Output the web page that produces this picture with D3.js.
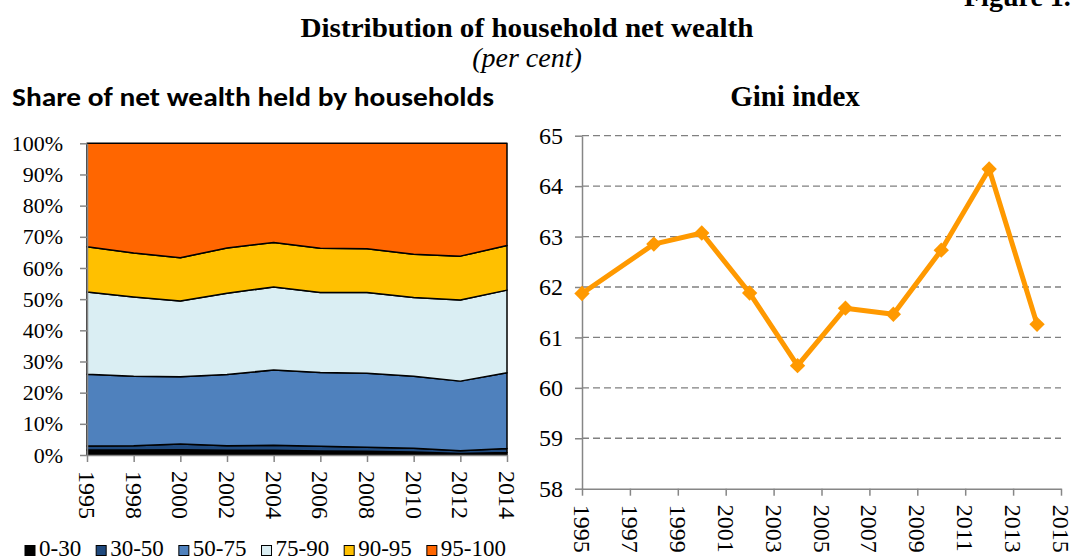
<!DOCTYPE html>
<html>
<head>
<meta charset="utf-8">
<script src="https://cdn.jsdelivr.net/npm/d3@7"></script>
<style>
  body { margin: 0; background: #fff; }
  svg { display: block; }
</style>
</head>
<body>
<div id="vis"></div>
<script>
const FRAME_WIDTH = 1072;
const FRAME_HEIGHT = 560;
const SERIF = "'Liberation Serif', 'Times New Roman', serif";
const SANS = "Carlito, 'Liberation Sans', Arial, sans-serif";
const GREY = "#868686";

// data for the stacked area chart (shares in per cent)
const years = ["1995", "1998", "2000", "2002", "2004", "2006", "2008", "2010", "2012", "2014"];
const groups = ["0-30", "30-50", "50-75", "75-90", "90-95", "95-100"];
const group_colors = ["#000000", "#1F497D", "#4F81BD", "#DAEEF3", "#FFC000", "#FF6600"];
const share_0_30   = [1.6, 1.6, 1.7, 1.5, 1.5, 1.3, 1.2, 1.0, 0.5, 0.8];
const share_30_50  = [1.3, 1.4, 1.8, 1.5, 1.6, 1.5, 1.3, 1.2, 0.9, 1.3];
const share_50_75  = [23.0, 22.3, 21.6, 22.8, 24.2, 23.7, 23.7, 23.1, 22.3, 24.3];
const share_75_90  = [26.4, 25.4, 24.3, 26.1, 26.6, 25.6, 25.9, 25.2, 26.0, 26.5];
const share_90_95  = [14.5, 14.1, 13.9, 14.5, 14.3, 14.2, 14.1, 13.9, 14.1, 14.3];
const share_95_100 = [33.2, 35.2, 36.7, 33.6, 31.8, 33.7, 33.8, 35.6, 36.2, 32.8];
const pct_ticks = [0, 10, 20, 30, 40, 50, 60, 70, 80, 90, 100];

// data for the Gini line
const gini_years = [1995, 1998, 2000, 2002, 2004, 2006, 2008, 2010, 2012, 2014];
const gini_values = [61.87, 62.85, 63.07, 61.88, 60.44, 61.58, 61.46, 62.73, 64.34, 61.26];
const gini_ticks = [58, 59, 60, 61, 62, 63, 64, 65];
const gini_year_ticks = [1995, 1997, 1999, 2001, 2003, 2005, 2007, 2009, 2011, 2013, 2015];

const FRAME = d3.select("#vis")
  .append("svg")
    .attr("width", FRAME_WIDTH)
    .attr("height", FRAME_HEIGHT);

// titles
FRAME.append("text")
  .attr("x", 964).attr("y", 6)
  .style("font-family", SERIF).style("font-weight", "bold").style("font-size", "28px")
  .text("Figure 1.");

FRAME.append("text")
  .attr("x", 527).attr("y", 37)
  .attr("text-anchor", "middle")
  .style("font-family", SERIF).style("font-weight", "bold").style("font-size", "28px")
  .attr("textLength", 453).attr("lengthAdjust", "spacingAndGlyphs")
  .text("Distribution of household net wealth");

FRAME.append("text")
  .attr("x", 527).attr("y", 67)
  .attr("text-anchor", "middle")
  .style("font-family", SERIF).style("font-style", "italic").style("font-size", "28px")
  .text("(per cent)");

FRAME.append("text")
  .attr("x", 12).attr("y", 106)
  .style("font-family", SANS).style("font-weight", "bold").style("font-size", "26px")
  .attr("textLength", 482).attr("lengthAdjust", "spacingAndGlyphs")
  .text("Share of net wealth held by households");

FRAME.append("text")
  .attr("x", 795).attr("y", 106)
  .attr("text-anchor", "middle")
  .style("font-family", SERIF).style("font-weight", "bold").style("font-size", "29px")
  .text("Gini index");

// ---------- left: stacked area ----------
const table = years.map((y, i) => ({
  year: y,
  "0-30": share_0_30[i], "30-50": share_30_50[i], "50-75": share_50_75[i],
  "75-90": share_75_90[i], "90-95": share_90_95[i], "95-100": share_95_100[i]
}));

const X1 = d3.scalePoint().domain(years).range([87, 507]);
const Y1 = d3.scaleLinear().domain([0, 100]).range([455, 143.3]);
const color = d3.scaleOrdinal().domain(groups).range(group_colors);

const stacked = d3.stack().keys(groups)(table);

const area = d3.area()
  .x(d => X1(d.data.year))
  .y0(d => Y1(d[0]))
  .y1(d => Y1(d[1]));

FRAME.append("g").selectAll("path")
  .data(stacked)
  .enter()
  .append("path")
    .attr("d", area)
    .attr("fill", d => color(d.key))
    .attr("stroke", "#000")
    .attr("stroke-width", 1.5)
    .attr("stroke-linejoin", "round");

const yAxis1 = FRAME.append("g")
  .attr("transform", "translate(87,0)")
  .call(d3.axisLeft(Y1).tickValues(pct_ticks).tickSize(7).tickSizeOuter(0).tickPadding(17)
    .tickFormat(d => d + "%"));

const xAxis1 = FRAME.append("g")
  .attr("transform", "translate(0,455)")
  .call(d3.axisBottom(X1).tickSize(7).tickSizeOuter(0));

xAxis1.selectAll("text")
  .attr("transform", "rotate(90)")
  .attr("x", 16).attr("y", 0).attr("dy", "0.35em")
  .style("text-anchor", "start");

// legend
const legend = FRAME.append("g");
let lx = 25;
groups.forEach((g, i) => {
  legend.append("rect")
    .attr("x", lx).attr("y", 545.5)
    .attr("width", 10).attr("height", 10)
    .attr("fill", color(g))
    .attr("stroke", "#000").attr("stroke-width", 1);
  const t = legend.append("text")
    .attr("x", lx + 14).attr("y", 556)
    .style("font-family", SERIF).style("font-size", "23px")
    .text(g);
  lx = lx + 14 + t.node().getComputedTextLength() + 15;
});

// ---------- right: Gini line ----------
const X2 = d3.scaleLinear().domain([1995, 2015]).range([582, 1061]);
const Y2 = d3.scaleLinear().domain([58, 65]).range([488.7, 135.7]);

FRAME.append("g").selectAll("line")
  .data(gini_ticks.filter(d => d > 58))
  .enter()
  .append("line")
    .attr("x1", X2(1995)).attr("x2", X2(2015))
    .attr("y1", d => Y2(d)).attr("y2", d => Y2(d))
    .attr("stroke", "#808080")
    .attr("stroke-width", 1.3)
    .attr("stroke-dasharray", "7,4");

const yAxis2 = FRAME.append("g")
  .attr("transform", "translate(582,0)")
  .call(d3.axisLeft(Y2).tickValues(gini_ticks).tickSize(7).tickSizeOuter(0).tickPadding(12)
    .tickFormat(d3.format("d")));

const xAxis2 = FRAME.append("g")
  .attr("transform", "translate(0,488.7)")
  .call(d3.axisBottom(X2).tickValues(gini_year_ticks).tickSize(7).tickSizeOuter(0)
    .tickFormat(d3.format("d")));

xAxis2.selectAll("text")
  .attr("transform", "rotate(90)")
  .attr("x", 16).attr("y", 0).attr("dy", "0.35em")
  .style("text-anchor", "start");

[yAxis1, xAxis1, yAxis2, xAxis2].forEach(ax => {
  ax.selectAll("text").attr("fill", "#000")
    .style("font-family", SERIF).style("font-size", "24px");
  ax.selectAll("line, path").attr("stroke", GREY).attr("stroke-width", 1.5);
});
yAxis1.selectAll("text").style("font-size", "22px");

const line = d3.line()
  .x((d, i) => X2(gini_years[i]))
  .y(d => Y2(d));

FRAME.append("path")
  .datum(gini_values)
  .attr("d", line)
  .attr("fill", "none")
  .attr("stroke", "#FF9900")
  .attr("stroke-width", 5)
  .attr("stroke-linejoin", "round");

FRAME.append("g").selectAll("path")
  .data(gini_values)
  .enter()
  .append("path")
    .attr("d", d3.symbol().type(d3.symbolDiamond2).size(150))
    .attr("transform", (d, i) => "translate(" + X2(gini_years[i]) + "," + Y2(d) + ")")
    .attr("fill", "#FF9900");
</script>
</body>
</html>
